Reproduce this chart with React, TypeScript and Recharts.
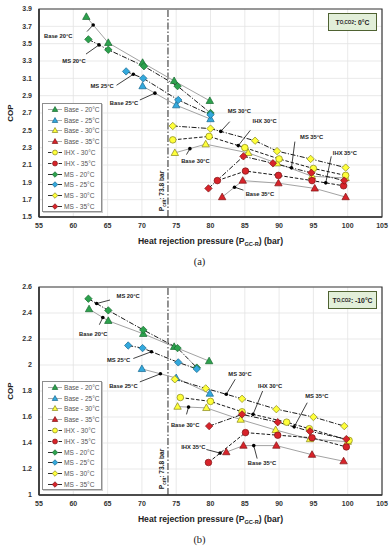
import React from 'react';
import {
  LineChart, Line, XAxis, YAxis, CartesianGrid, ReferenceLine, ReferenceDot, ReferenceArea, Legend, Label,
} from 'recharts';

type Pt = [number, number];

const pressureTicks = [55, 60, 65, 70, 75, 80, 85, 90, 95, 100, 105];
const copTicksA = [1.5, 1.7, 1.9, 2.1, 2.3, 2.5, 2.7, 2.9, 3.1, 3.3, 3.5, 3.7, 3.9];
const copTicksB = [1, 1.2, 1.4, 1.6, 1.8, 2, 2.2, 2.4, 2.6];

const seriesNames = [
  'Base - 20°C', 'Base - 25°C', 'Base - 30°C', 'Base - 35°C',
  'IHX - 30°C', 'IHX - 35°C',
  'MS - 20°C', 'MS - 25°C', 'MS - 30°C', 'MS - 35°C',
];

// (a) evaporation 0°C  -> [pressure bar, COP]
const aBase20: Pt[] = [[61.9, 3.81], [65.1, 3.51], [70.1, 3.28], [74.7, 3.07], [79.9, 2.84]];
const aBase25: Pt[] = [[70.1, 3.01], [75.0, 2.79], [80.0, 2.63]];
const aBase30: Pt[] = [[74.8, 2.24], [79.3, 2.34], [85.5, 2.24], [89.7, 2.12], [94.8, 1.97], [99.7, 1.95]];
const aBase35: Pt[] = [[81.7, 1.73], [84.7, 1.92], [89.9, 1.89], [95.2, 1.83], [99.7, 1.73]];
const aIhx30: Pt[] = [[74.5, 2.39], [79.8, 2.43], [85.0, 2.30], [90.0, 2.17], [95.0, 2.06], [99.7, 1.98]];
const aIhx35: Pt[] = [[81.0, 1.92], [85.1, 2.03], [89.9, 1.98], [94.8, 1.92], [99.4, 1.86]];
const aMs20: Pt[] = [[62.2, 3.55], [65.1, 3.43], [70.3, 3.24], [75.2, 3.01], [80.0, 2.70]];
const aMs25: Pt[] = [[67.7, 3.18], [70.2, 3.10], [75.3, 2.85], [80.0, 2.68]];
const aMs30: Pt[] = [[74.5, 2.55], [80.0, 2.52], [86.5, 2.38], [89.7, 2.26], [94.6, 2.17], [99.7, 2.07]];
const aMs35: Pt[] = [[79.7, 1.83], [84.8, 2.20], [89.1, 2.12], [94.7, 2.01], [99.5, 1.92]];

// (b) evaporation -10°C
const bBase20: Pt[] = [[62.3, 2.43], [65.1, 2.34], [70.2, 2.24], [74.7, 2.14], [79.8, 2.03]];
const bBase25: Pt[] = [[70.0, 1.97], [75.0, 1.90], [79.9, 1.78]];
const bBase30: Pt[] = [[75.2, 1.68], [79.4, 1.67], [84.4, 1.58], [89.5, 1.50], [94.5, 1.43], [100.0, 1.41]];
const bBase35: Pt[] = [[82.3, 1.33], [84.8, 1.38], [89.6, 1.38], [94.8, 1.31], [99.4, 1.26]];
const bIhx30: Pt[] = [[75.6, 1.75], [80.0, 1.72], [84.6, 1.64], [91.1, 1.56], [94.4, 1.51], [100.2, 1.42]];
const bIhx35: Pt[] = [[79.7, 1.25], [85.1, 1.48], [89.8, 1.46], [94.8, 1.44], [99.8, 1.37]];
const bMs20: Pt[] = [[62.2, 2.51], [65.1, 2.42], [70.2, 2.27], [75.2, 2.13], [78.0, 1.98]];
const bMs25: Pt[] = [[68.0, 2.15], [70.1, 2.13], [75.3, 2.02], [78.0, 1.97]];
const bMs30: Pt[] = [[74.8, 1.89], [79.3, 1.82], [84.6, 1.74], [89.6, 1.66], [95.0, 1.60], [99.5, 1.53]];
const bMs35: Pt[] = [[79.8, 1.53], [84.6, 1.62], [89.8, 1.56], [94.5, 1.49], [99.8, 1.43]];

const W = 391;
const H = 249;
const FONT = '"Liberation Sans", Arial, sans-serif';

const GREEN = { fill: '#2ca24d', stroke: '#17682f' };
const BLUE = { fill: '#33a9dd', stroke: '#17678f' };
const YELLOW = { fill: '#ffff3a', stroke: '#85851a' };
const RED = { fill: '#d8232a', stroke: '#7d1414' };

const LINES: Record<string, { stroke: string; dash?: string }> = {
  base: { stroke: '#a3a3a3' },
  ihx: { stroke: '#1a1a1a', dash: '3.5 1.8' },
  ms: { stroke: '#1a1a1a', dash: '5 1.6 1.2 1.6' },
};

const seriesStyle = [
  { kind: 'base', shape: 'triangle', col: GREEN },
  { kind: 'base', shape: 'triangle', col: BLUE },
  { kind: 'base', shape: 'triangle', col: YELLOW },
  { kind: 'base', shape: 'triangle', col: RED },
  { kind: 'ihx', shape: 'circle', col: YELLOW },
  { kind: 'ihx', shape: 'circle', col: RED },
  { kind: 'ms', shape: 'diamond', col: GREEN },
  { kind: 'ms', shape: 'diamond', col: BLUE },
  { kind: 'ms', shape: 'diamond', col: YELLOW },
  { kind: 'ms', shape: 'diamond', col: RED },
];

const panelAData = [aBase20, aBase25, aBase30, aBase35, aIhx30, aIhx35, aMs20, aMs25, aMs30, aMs35];
const panelBData = [bBase20, bBase25, bBase30, bBase35, bIhx30, bIhx35, bMs20, bMs25, bMs30, bMs35];

type Note = { text: string; series: Pt[]; p: number; end: Pt; at: Pt };

const notesA: Note[] = [
  { text: 'Base 20°C', series: aBase20, p: 62.9, end: [62.0, 3.64], at: [57.8, 3.59] },
  { text: 'MS 20°C', series: aMs20, p: 63.75, end: [61.85, 3.38], at: [60.1, 3.30] },
  { text: 'MS 25°C', series: aMs25, p: 68.75, end: [66.3, 3.02], at: [64.2, 3.01] },
  { text: 'Base 25°C', series: aBase25, p: 71.9, end: [69.7, 2.85], at: [67.4, 2.82] },
  { text: 'MS 30°C', series: aMs30, p: 81.5, end: [82.8, 2.60], at: [84.2, 2.72] },
  { text: 'IHX 30°C', series: aIhx30, p: 84.05, end: [85.8, 2.50], at: [87.9, 2.61] },
  { text: 'Base 30°C', series: aBase30, p: 77.0, end: [76.5, 2.22], at: [77.8, 2.15] },
  { text: 'MS 35°C', series: aMs35, p: 91.8, end: [92.3, 2.37], at: [94.75, 2.42] },
  { text: 'IHX 35°C', series: aIhx35, p: 96.8, end: [97.6, 2.20], at: [99.6, 2.24] },
  { text: 'Base 35°C', series: aBase35, p: 83.5, end: [84.8, 1.81], at: [87.2, 1.77] },
];

const notesB: Note[] = [
  { text: 'MS 20°C', series: bMs20, p: 63.4, end: [65.35, 2.50], at: [68.0, 2.53] },
  { text: 'Base 20°C', series: bBase20, p: 64.3, end: [63.8, 2.31], at: [62.9, 2.24] },
  { text: 'MS 25°C', series: bMs25, p: 71.4, end: [68.75, 2.05], at: [66.6, 2.035] },
  { text: 'Base 25°C', series: bBase25, p: 72.7, end: [69.7, 1.87], at: [67.3, 1.84] },
  { text: 'MS 30°C', series: bMs30, p: 82.3, end: [83.6, 1.89], at: [84.3, 1.93] },
  { text: 'IHX 30°C', series: bIhx30, p: 86.2, end: [87.6, 1.80], at: [88.7, 1.835] },
  { text: 'Base 30°C', series: bBase30, p: 76.8, end: [76.5, 1.62], at: [76.3, 1.54] },
  { text: 'MS 35°C', series: bMs35, p: 92.2, end: [94.1, 1.71], at: [95.5, 1.76] },
  { text: 'IHX 35°C', series: bIhx35, p: 81.4, end: [79.4, 1.35], at: [77.5, 1.37] },
  { text: 'Base 35°C', series: bBase35, p: 86.3, end: [86.8, 1.28], at: [87.5, 1.245] },
];

// where a callout touches its curve
const onCurve = (s: Pt[], p: number) => {
  for (let i = 0; i < s.length - 1; i++) {
    const [x0, y0] = s[i];
    const [x1, y1] = s[i + 1];
    if (p >= x0 && p <= x1) return y0 + ((y1 - y0) * (p - x0)) / (x1 - x0);
  }
  return s[0][1];
};

function Marker({ shape, cx, cy, col, s = 1 }: any) {
  const sw = 0.7;
  if (shape === 'triangle') {
    const w = 7.4 * s, h = 6.6 * s;
    return (
      <polygon
        points={`${cx},${cy - h * 0.6} ${cx - w / 2},${cy + h * 0.4} ${cx + w / 2},${cy + h * 0.4}`}
        fill={col.fill} stroke={col.stroke} strokeWidth={sw}
      />
    );
  }
  if (shape === 'diamond') {
    const r = 3.7 * s;
    return (
      <polygon
        points={`${cx},${cy - r} ${cx + r},${cy} ${cx},${cy + r} ${cx - r},${cy}`}
        fill={col.fill} stroke={col.stroke} strokeWidth={sw}
      />
    );
  }
  return <circle cx={cx} cy={cy} r={3.3 * s} fill={col.fill} stroke={col.stroke} strokeWidth={sw} />;
}

const LegendBox = () => (
  <div
    style={{
      width: 60, height: 109, boxSizing: 'border-box', border: '1px solid #8e8e8e',
      boxShadow: '1px 1px 0 #c8c8c8', background: '#fff', paddingTop: 0,
      fontFamily: FONT, fontSize: 6.6, color: '#555',
    }}
  >
    {seriesNames.map((name, i) => {
      const st = seriesStyle[i];
      const ln = LINES[st.kind];
      return (
        <div key={name} style={{ height: 10.8, display: 'flex', alignItems: 'center' }}>
          <svg width={21} height={9} style={{ flex: 'none' }}>
            <line x1={5} y1={4.5} x2={19} y2={4.5} stroke={ln.stroke} strokeWidth={0.9} strokeDasharray={ln.dash} />
            <Marker shape={st.shape} cx={12} cy={4.5} col={st.col} s={0.75} />
          </svg>
          <span style={{ whiteSpace: 'nowrap' }}>{name}</span>
        </div>
      );
    })}
  </div>
);

const XTitle = (props: any) => {
  const { x, y, width } = props.viewBox;
  return (
    <text x={x + width / 2} y={y + 27} textAnchor="middle" fontFamily={FONT} fontSize={8.6} fontWeight={700} fill="#222">
      Heat rejection pressure (P<tspan fontSize={5.6} dy={2}>GC-R</tspan><tspan dy={-2}>) (bar)</tspan>
    </text>
  );
};

const YTitle = (props: any) => {
  const { y, height } = props.viewBox;
  const cx = 13;
  const cy = y + height / 2;
  return (
    <text x={cx} y={cy} transform={`rotate(-90 ${cx} ${cy})`} textAnchor="middle" fontFamily={FONT} fontSize={8} fontWeight={700} fill="#222">
      COP
    </text>
  );
};

const PcritLabel = (props: any) => {
  const vb = props.viewBox;
  const x = vb.x - 3.5;
  const y = vb.y + vb.height - 26;
  return (
    <text x={x} y={y} transform={`rotate(-90 ${x} ${y})`} textAnchor="middle" fontFamily={FONT} fontSize={6.6} fontWeight={700} fill="#222">
      P<tspan fontSize={4.6} dy={1.5}>crit</tspan><tspan dy={-1.5}>: 73.8 bar</tspan>
    </text>
  );
};

function Panel({ top, data, yDomain, yTicks, notes, temp, tag }: any) {
  const tick = { fontFamily: FONT, fontSize: 7, fontWeight: 700, fill: '#333' };
  return (
    <div style={{ position: 'absolute', left: 0, top, width: W, height: H + 30 }}>
      <LineChart width={W} height={H} margin={{ top: 9, right: 9, left: 0, bottom: 0 }}>
        <CartesianGrid stroke="#e3e3e3" strokeWidth={0.8} />
        <XAxis
          type="number" dataKey="p" domain={[55, 105]} ticks={pressureTicks} interval={0}
          height={32} tickLine={false} tickSize={4} axisLine={{ stroke: '#333', strokeWidth: 1.6 }} tick={tick}
        >
          <Label content={XTitle} />
        </XAxis>
        <YAxis
          type="number" dataKey="cop" domain={yDomain} ticks={yTicks} interval={0} width={39}
          tickLine={false} tickSize={5} axisLine={{ stroke: '#333', strokeWidth: 1.6 }} tick={tick}
          tickFormatter={(v: number) => String(+v.toFixed(1))}
        >
          <Label content={YTitle} />
        </YAxis>
        <ReferenceArea x1={55} x2={105} y1={yDomain[0]} y2={yDomain[1]} fill="none" stroke="#3a3a3a" strokeWidth={1.2} />
        <ReferenceLine x={73.8} stroke="#4a4a4a" strokeWidth={1.2} strokeDasharray="7 2 1.5 2" label={PcritLabel} />
        {data.map((pts: Pt[], i: number) => {
          const st = seriesStyle[i];
          const ln = LINES[st.kind];
          return (
            <Line
              key={seriesNames[i]}
              name={seriesNames[i]}
              data={pts.map(([p, cop]) => ({ p, cop }))}
              dataKey="cop"
              stroke={ln.stroke}
              strokeWidth={1}
              strokeDasharray={ln.dash}
              isAnimationActive={false}
              activeDot={false}
              dot={(d: any) => <Marker key={`${i}-${d.index}`} shape={st.shape} cx={d.cx} cy={d.cy} col={st.col} />}
            />
          );
        })}
        {notes.map((n: Note) => {
          const y = onCurve(n.series, n.p);
          return (
            <ReferenceLine
              key={`l-${n.text}`}
              segment={[{ x: n.p, y }, { x: n.end[0], y: n.end[1] }]}
              stroke="#111" strokeWidth={0.8}
            />
          );
        })}
        {notes.map((n: Note) => (
          <ReferenceDot key={`d-${n.text}`} x={n.p} y={onCurve(n.series, n.p)} r={1.8} fill="#000" stroke="none" />
        ))}
        {notes.map((n: Note) => (
          <ReferenceDot
            key={`t-${n.text}`} x={n.at[0]} y={n.at[1]} r={0}
            shape={(s: any) => (
              <text x={s.cx} y={s.cy} dy={2} textAnchor="middle" fontFamily={FONT} fontSize={5.8} fontWeight={700} fill="#222">
                {n.text}
              </text>
            )}
          />
        ))}
        <Legend
          layout="horizontal" verticalAlign="middle" align="center"
          wrapperStyle={{ left: 42, top: 103, width: 60, height: 109 }}
          content={() => <LegendBox />}
        />
      </LineChart>
      <div
        style={{
          position: 'absolute', left: 328, top: 13, width: 49, height: 18, boxSizing: 'border-box',
          background: '#e2efd9', border: '1.5px solid #4f6232', fontFamily: FONT, fontSize: 6.8,
          fontWeight: 700, color: '#222', display: 'flex', alignItems: 'center', justifyContent: 'center',
        }}
      >
        T<sub style={{ fontSize: 4.6 }}>O,CO2</sub>: {temp}
      </div>
      <div
        style={{
          position: 'absolute', left: 0, width: W, top: 256, textAlign: 'center',
          fontFamily: '"Liberation Serif", serif', fontSize: 10.5, color: '#222', paddingLeft: 8, boxSizing: 'border-box',
        }}
      >
        {tag}
      </div>
    </div>
  );
}

export default function App() {
  return (
    <div style={{ position: 'absolute', left: 0, top: 0, width: W, height: 550, background: '#fff', overflow: 'hidden' }}>
      <Panel top={0} data={panelAData} yDomain={[1.5, 3.9]} yTicks={copTicksA} notes={notesA} temp="0°C" tag="(a)" />
      <Panel top={278} data={panelBData} yDomain={[1, 2.6]} yTicks={copTicksB} notes={notesB} temp="-10°C" tag="(b)" />
    </div>
  );
}
